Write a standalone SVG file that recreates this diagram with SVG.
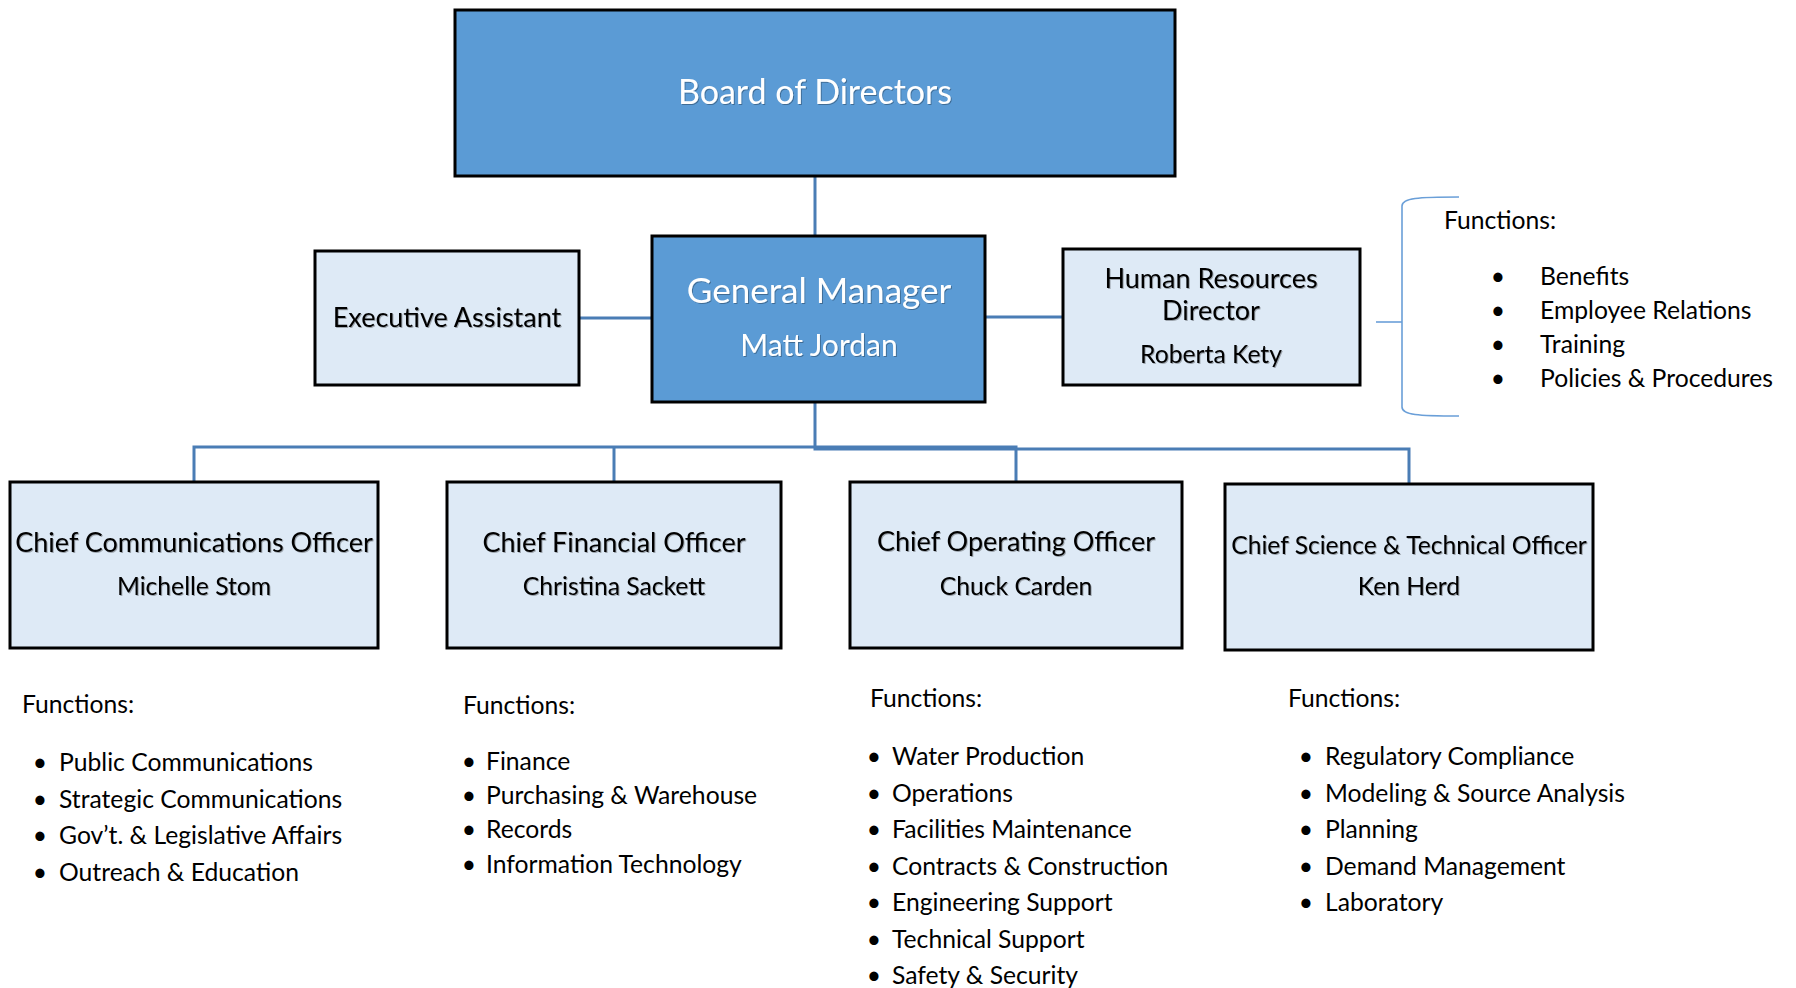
<svg xmlns="http://www.w3.org/2000/svg" width="1796" height="988" viewBox="0 0 1796 988">
<style>
.dark{fill:#5b9bd5;stroke:#000;stroke-width:3}
.light{fill:#deeaf6;stroke:#000;stroke-width:3}
text{font-family:Lato,"Liberation Sans",sans-serif}
.wt{fill:#fff;text-anchor:middle;filter:url(#sh)}
.bt{fill:#000;text-anchor:middle;filter:url(#sh)}
.t1{font-size:34px}
.t1g{font-size:35px}
.t2{font-size:30px}
.t3{font-size:27px}
.t4{font-size:24.7px}
.t5{font-size:24.6px}
.fn{fill:#000;font-size:24.7px}
.bu{fill:#000;font-size:24.7px;text-anchor:middle}
.conn{fill:none;stroke:#4a7db5;stroke-width:3}
.brk{fill:none;stroke:#6a9fd8;stroke-width:1.6}
</style>
<defs>
<filter id="sh" x="-5%" y="-20%" width="110%" height="140%">
<feDropShadow dx="1" dy="1" stdDeviation="0.6" flood-color="#000" flood-opacity="0.3"/>
</filter>
</defs>
<g id="connectors">
<path class="conn" d="M815 176 V236"/>
<path class="conn" d="M579 318 H652"/>
<path class="conn" d="M985 317 H1063"/>
<path class="conn" d="M194 482 V447 H1016 V482"/>
<path class="conn" d="M614 447 V482"/>
<path class="conn" d="M815 402 V449 H1409 V484"/>
<path class="brk" d="M1459 197 C1418 197 1402 198 1402 206 V407 C1402 415 1418 416 1459 416"/>
<path class="brk" d="M1376 322 H1402"/>
</g>
<g id="board">
<rect class="dark" x="455" y="10" width="720" height="166"/>
<text class="wt t1" x="815" y="104">Board of Directors</text>
</g>
<g id="gm">
<rect class="dark" x="652" y="236" width="333" height="166"/>
<text class="wt t1g" x="819" y="303">General Manager</text>
<text class="wt t2" x="819" y="356">Matt Jordan</text>
</g>
<g id="ea">
<rect class="light" x="315" y="251" width="264" height="134"/>
<text class="bt t3" x="447" y="327">Executive Assistant</text>
</g>
<g id="hr">
<rect class="light" x="1063" y="249" width="297" height="136"/>
<text class="bt t3" x="1211" y="288">Human Resources</text>
<text class="bt t3" x="1211" y="320">Director</text>
<text class="bt t4" x="1211" y="363">Roberta Kety</text>
</g>
<g id="hr-functions">
<text class="fn" x="1444" y="229">Functions:</text>
<text class="bu" x="1498" y="285">•</text><text class="fn" x="1540" y="285">Benefits</text>
<text class="bu" x="1498" y="319">•</text><text class="fn" x="1540" y="319">Employee Relations</text>
<text class="bu" x="1498" y="353">•</text><text class="fn" x="1540" y="353">Training</text>
<text class="bu" x="1498" y="387">•</text><text class="fn" x="1540" y="387">Policies &amp; Procedures</text>
</g>
<g id="cco">
<rect class="light" x="10" y="482" width="368" height="166"/>
<text class="bt t3" x="194" y="552">Chief Communications Officer</text>
<text class="bt t4" x="194" y="595">Michelle Stom</text>
</g>
<g id="cco-functions">
<text class="fn" x="22" y="713">Functions:</text>
<text class="bu" x="40" y="771">•</text><text class="fn" x="59" y="771">Public Communications</text>
<text class="bu" x="40" y="807.5">•</text><text class="fn" x="59" y="807.5">Strategic Communications</text>
<text class="bu" x="40" y="844">•</text><text class="fn" x="59" y="844">Gov’t. &amp; Legislative Affairs</text>
<text class="bu" x="40" y="880.5">•</text><text class="fn" x="59" y="880.5">Outreach &amp; Education</text>
</g>
<g id="cfo">
<rect class="light" x="447" y="482" width="334" height="166"/>
<text class="bt t3" x="614" y="552">Chief Financial Officer</text>
<text class="bt t4" x="614" y="595">Christina Sackett</text>
</g>
<g id="cfo-functions">
<text class="fn" x="463" y="714">Functions:</text>
<text class="bu" x="469" y="770">•</text><text class="fn" x="486" y="770">Finance</text>
<text class="bu" x="469" y="804">•</text><text class="fn" x="486" y="804">Purchasing &amp; Warehouse</text>
<text class="bu" x="469" y="838">•</text><text class="fn" x="486" y="838">Records</text>
<text class="bu" x="469" y="872.5">•</text><text class="fn" x="486" y="872.5">Information Technology</text>
</g>
<g id="coo">
<rect class="light" x="850" y="482" width="332" height="166"/>
<text class="bt t3" x="1016" y="551">Chief Operating Officer</text>
<text class="bt t4" x="1016" y="595">Chuck Carden</text>
</g>
<g id="coo-functions">
<text class="fn" x="870" y="707">Functions:</text>
<text class="bu" x="874" y="765">•</text><text class="fn" x="892" y="765">Water Production</text>
<text class="bu" x="874" y="801.5">•</text><text class="fn" x="892" y="801.5">Operations</text>
<text class="bu" x="874" y="838">•</text><text class="fn" x="892" y="838">Facilities Maintenance</text>
<text class="bu" x="874" y="874.5">•</text><text class="fn" x="892" y="874.5">Contracts &amp; Construction</text>
<text class="bu" x="874" y="911">•</text><text class="fn" x="892" y="911">Engineering Support</text>
<text class="bu" x="874" y="947.5">•</text><text class="fn" x="892" y="947.5">Technical Support</text>
<text class="bu" x="874" y="984">•</text><text class="fn" x="892" y="984">Safety &amp; Security</text>
</g>
<g id="csto">
<rect class="light" x="1225" y="484" width="368" height="166"/>
<text class="bt t5" x="1409" y="554">Chief Science &amp; Technical Officer</text>
<text class="bt t4" x="1409" y="595">Ken Herd</text>
</g>
<g id="csto-functions">
<text class="fn" x="1288" y="707">Functions:</text>
<text class="bu" x="1306" y="765">•</text><text class="fn" x="1325" y="765">Regulatory Compliance</text>
<text class="bu" x="1306" y="801.5">•</text><text class="fn" x="1325" y="801.5">Modeling &amp; Source Analysis</text>
<text class="bu" x="1306" y="838">•</text><text class="fn" x="1325" y="838">Planning</text>
<text class="bu" x="1306" y="874.5">•</text><text class="fn" x="1325" y="874.5">Demand Management</text>
<text class="bu" x="1306" y="911">•</text><text class="fn" x="1325" y="911">Laboratory</text>
</g>
</svg>
